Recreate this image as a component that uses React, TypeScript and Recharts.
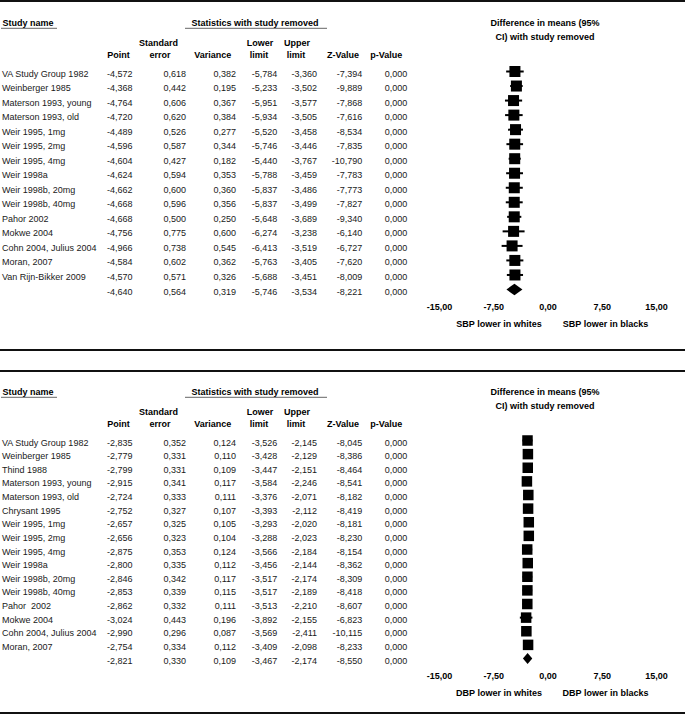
import React from "react";
import { ComposedChart, Scatter, ErrorBar, XAxis, YAxis, ReferenceArea, Customized } from "recharts";

// SBP: leave-one-out analysis (last row = pooled estimate)
const sbpNames = [
  "VA Study Group 1982", "Weinberger 1985", "Materson 1993, young", "Materson 1993, old",
  "Weir 1995, 1mg", "Weir 1995, 2mg", "Weir 1995, 4mg", "Weir 1998a", "Weir 1998b, 20mg",
  "Weir 1998b, 40mg", "Pahor 2002", "Mokwe 2004", "Cohn 2004, Julius 2004", "Moran, 2007",
  "Van Rijn-Bikker 2009", "",
];
const sbpPoint = [-4.572, -4.368, -4.764, -4.72, -4.489, -4.596, -4.604, -4.624, -4.662, -4.668, -4.668, -4.756, -4.966, -4.584, -4.57, -4.64];
const sbpSE = [0.618, 0.442, 0.606, 0.62, 0.526, 0.587, 0.427, 0.594, 0.6, 0.596, 0.5, 0.775, 0.738, 0.602, 0.571, 0.564];
const sbpVar = [0.382, 0.195, 0.367, 0.384, 0.277, 0.344, 0.182, 0.353, 0.36, 0.356, 0.25, 0.6, 0.545, 0.362, 0.326, 0.319];
const sbpLower = [-5.784, -5.233, -5.951, -5.934, -5.52, -5.746, -5.44, -5.788, -5.837, -5.837, -5.648, -6.274, -6.413, -5.763, -5.688, -5.746];
const sbpUpper = [-3.36, -3.502, -3.577, -3.505, -3.458, -3.446, -3.767, -3.459, -3.486, -3.499, -3.689, -3.238, -3.519, -3.405, -3.451, -3.534];
const sbpZ = [-7.394, -9.889, -7.868, -7.616, -8.534, -7.835, -10.79, -7.783, -7.773, -7.827, -9.34, -6.14, -6.727, -7.62, -8.009, -8.221];
const sbpP = [0, 0, 0, 0, 0, 0, 0, 0, 0, 0, 0, 0, 0, 0, 0, 0];

// DBP
const dbpNames = [
  "VA Study Group 1982", "Weinberger 1985", "Thind 1988", "Materson 1993, young", "Materson 1993, old",
  "Chrysant 1995", "Weir 1995, 1mg", "Weir 1995, 2mg", "Weir 1995, 4mg", "Weir 1998a",
  "Weir 1998b, 20mg", "Weir 1998b, 40mg", "Pahor  2002", "Mokwe 2004", "Cohn 2004, Julius 2004",
  "Moran, 2007", "",
];
const dbpPoint = [-2.835, -2.779, -2.799, -2.915, -2.724, -2.752, -2.657, -2.656, -2.875, -2.8, -2.846, -2.853, -2.862, -3.024, -2.99, -2.754, -2.821];
const dbpSE = [0.352, 0.331, 0.331, 0.341, 0.333, 0.327, 0.325, 0.323, 0.353, 0.335, 0.342, 0.339, 0.332, 0.443, 0.296, 0.334, 0.33];
const dbpVar = [0.124, 0.11, 0.109, 0.117, 0.111, 0.107, 0.105, 0.104, 0.124, 0.112, 0.117, 0.115, 0.111, 0.196, 0.087, 0.112, 0.109];
const dbpLower = [-3.526, -3.428, -3.447, -3.584, -3.376, -3.393, -3.293, -3.288, -3.566, -3.456, -3.517, -3.517, -3.513, -3.892, -3.569, -3.409, -3.467];
const dbpUpper = [-2.145, -2.129, -2.151, -2.246, -2.071, -2.112, -2.02, -2.023, -2.184, -2.144, -2.174, -2.189, -2.21, -2.155, -2.411, -2.098, -2.174];
const dbpZ = [-8.045, -8.386, -8.464, -8.541, -8.182, -8.419, -8.181, -8.23, -8.154, -8.362, -8.309, -8.418, -8.607, -6.823, -10.115, -8.233, -8.55];
const dbpP = [0, 0, 0, 0, 0, 0, 0, 0, 0, 0, 0, 0, 0, 0, 0, 0, 0];

const xTicks = [-15, -7.5, 0, 7.5, 15];

const W = 685;
const H = 349;
const FONT = "'Liberation Sans', Arial, Helvetica, sans-serif";
const colRight = [132.5, 186, 236, 277.3, 317, 362.3, 407.3];

const fmt3 = (v: number) => v.toFixed(3).replace(".", ",");
const fmt2 = (v: number) => v.toFixed(2).replace(".", ",");

type Row = { name: string; values: number[] };

function RowTick(props: any) {
  const { y, payload, table } = props;
  const r: Row = table[payload.value];
  if (!r) return null;
  return (
    <g fontSize={9} fill="#1a1a1a" fontFamily={FONT}>
      <text x={2} y={y + 5} style={{ whiteSpace: "pre" }}>{r.name}</text>
      {r.values.map((v, k) => (
        <text key={k} x={colRight[k]} y={y + 5} textAnchor="end">{fmt3(v)}</text>
      ))}
    </g>
  );
}

function Headers({ left, right }: { left: string; right: string }) {
  const b = { fontWeight: "bold" as const, fontSize: 9, fill: "#000", fontFamily: FONT };
  return (
    <g>
      <text {...b} x={2.5} y={26.3}>Study name</text>
      <line x1={1} x2={57} y1={28.3} y2={28.3} stroke="#666" strokeWidth={1} />
      <text {...b} x={255} y={26.3} textAnchor="middle">Statistics with study removed</text>
      <line x1={185} x2={327} y1={28.3} y2={28.3} stroke="#666" strokeWidth={1} />
      <text {...b} x={158.5} y={46.3} textAnchor="middle">Standard</text>
      <text {...b} x={260} y={46.3} textAnchor="middle">Lower</text>
      <text {...b} x={297} y={46.3} textAnchor="middle">Upper</text>
      <text {...b} x={118.5} y={57.8} textAnchor="middle">Point</text>
      <text {...b} x={160} y={57.8} textAnchor="middle">error</text>
      <text {...b} x={212.8} y={57.8} textAnchor="middle">Variance</text>
      <text {...b} x={259} y={57.8} textAnchor="middle">limit</text>
      <text {...b} x={296} y={57.8} textAnchor="middle">limit</text>
      <text {...b} x={343} y={57.8} textAnchor="middle">Z-Value</text>
      <text {...b} x={386.3} y={57.8} textAnchor="middle">p-Value</text>
      <text {...b} x={545} y={26.3} textAnchor="middle">Difference in means (95%</text>
      <text {...b} x={545} y={40.3} textAnchor="middle">CI) with study removed</text>
      <text {...b} x={499} y={326.5} textAnchor="middle">{left}</text>
      <text {...b} x={605.5} y={326.5} textAnchor="middle">{right}</text>
    </g>
  );
}

const Diamond = (p: any) => {
  const x = Math.min(p.x, p.x + p.width);
  const y = Math.min(p.y, p.y + p.height);
  const w = Math.abs(p.width);
  const h = Math.abs(p.height);
  const pts = `${x},${y + h / 2} ${x + w / 2},${y} ${x + w},${y + h / 2} ${x + w / 2},${y + h}`;
  return <polygon points={pts} fill="#000" />;
};

type PanelProps = {
  names: string[];
  point: number[];
  se: number[];
  variance: number[];
  lower: number[];
  upper: number[];
  z: number[];
  p: number[];
  left: string;
  right: string;
  square: number;
};

function Panel({ names, point, se, variance, lower, upper, z, p, left, right, square }: PanelProps) {
  const n = names.length;
  const table: Row[] = names.map((name, i) => ({
    name,
    values: [point[i], se[i], variance[i], lower[i], upper[i], z[i], p[i]],
  }));
  const studies = names.slice(0, n - 1).map((_, i) => ({
    x: point[i],
    y: i,
    err: [point[i] - lower[i], upper[i] - point[i]],
  }));
  const rowIdx = names.map((_, i) => i);
  const half = square / 2;
  return (
    <ComposedChart width={W} height={H} margin={{ top: 71.5, right: 28.5, bottom: 29.5, left: 0 }}>
      <XAxis
        type="number"
        dataKey="x"
        domain={[-15, 15]}
        ticks={xTicks}
        allowDataOverflow
        axisLine={false}
        tickLine={false}
        tickSize={0}
        tickMargin={14.3}
        height={30}
        interval={0}
        tick={{ fontSize: 9, fontWeight: "bold", fill: "#000", fontFamily: FONT }}
        tickFormatter={fmt2}
      />
      <YAxis
        type="number"
        dataKey="y"
        domain={[0, n - 1]}
        ticks={rowIdx}
        reversed
        interval={0}
        width={439.5}
        axisLine={false}
        tickLine={false}
        tick={(props: any) => <RowTick {...props} table={table} />}
      />
      <Scatter
        data={studies}
        isAnimationActive={false}
        shape={(s: any) => (
          <rect x={s.cx - half} y={s.cy - half} width={square} height={square} fill="#000" />
        )}
      >
        <ErrorBar dataKey="err" direction="x" width={0} stroke="#000" strokeWidth={2} isAnimationActive={false} />
      </Scatter>
      <ReferenceArea
        x1={lower[n - 1]}
        x2={upper[n - 1]}
        y1={n - 1 - 0.4}
        y2={n - 1 + 0.4}
        ifOverflow="visible"
        shape={Diamond}
      />
      <Customized component={<Headers left={left} right={right} />} />
    </ComposedChart>
  );
}

const rule = (top: number) => (
  <div style={{ position: "absolute", left: 0, top, width: W, height: 2, background: "#111" }} />
);

export default function App() {
  return (
    <div style={{ position: "absolute", left: 0, top: 0, width: W, height: 718, background: "#fff", fontFamily: FONT }}>
      {rule(0)}
      <div style={{ position: "absolute", left: 0, top: 0 }}>
        <Panel
          names={sbpNames}
          point={sbpPoint}
          se={sbpSE}
          variance={sbpVar}
          lower={sbpLower}
          upper={sbpUpper}
          z={sbpZ}
          p={sbpP}
          left="SBP lower in whites"
          right="SBP lower in blacks"
          square={11}
        />
      </div>
      {rule(348.5)}
      {rule(370)}
      <div style={{ position: "absolute", left: 0, top: 369 }}>
        <Panel
          names={dbpNames}
          point={dbpPoint}
          se={dbpSE}
          variance={dbpVar}
          lower={dbpLower}
          upper={dbpUpper}
          z={dbpZ}
          p={dbpP}
          left="DBP lower in whites"
          right="DBP lower in blacks"
          square={10.5}
        />
      </div>
      {rule(712)}
    </div>
  );
}
